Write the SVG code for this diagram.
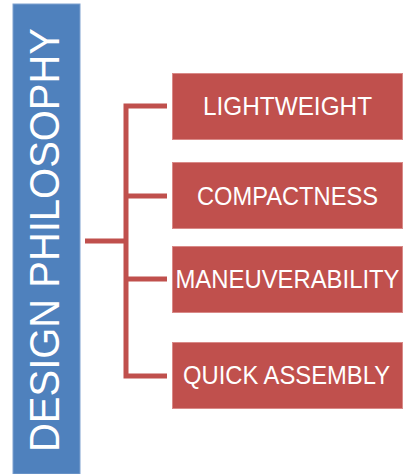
<svg xmlns="http://www.w3.org/2000/svg" width="406" height="474" viewBox="0 0 406 474">
  <style>
    .box { fill: #C0504D; stroke: #D98A88; stroke-width: 1; }
    .label { fill: #FFFFFF; font-family: "Liberation Sans", Arial, sans-serif; font-size: 25px; text-anchor: middle; }
    .title { fill: #FFFFFF; font-family: "Liberation Sans", Arial, sans-serif; font-size: 42px; text-anchor: middle; }
    .wire { fill: none; stroke: #C0504D; stroke-width: 5; stroke-linejoin: miter; }
  </style>
  <rect width="406" height="474" fill="#FFFFFF"/>

  <!-- root node: vertical banner -->
  <g id="design-philosophy">
    <rect x="13" y="4" width="67" height="470" fill="#4F81BD" stroke="#7FA1CF" stroke-width="1"/>
    <text class="title" transform="translate(59 240) rotate(-90)" x="0" y="0" textLength="424" lengthAdjust="spacingAndGlyphs">DESIGN PHILOSOPHY</text>
  </g>

  <!-- connectors -->
  <g id="connectors">
    <path class="wire" d="M85,241 H126"/>
    <path class="wire" d="M167,106 H126 V376 H167"/>
    <path class="wire" d="M126,196 H167"/>
    <path class="wire" d="M126,279 H167"/>
  </g>

  <g id="lightweight">
    <rect class="box" x="172.5" y="73.5" width="230" height="66"/>
    <text class="label" x="287.5" y="115" textLength="169" lengthAdjust="spacingAndGlyphs">LIGHTWEIGHT</text>
  </g>

  <g id="compactness">
    <rect class="box" x="172.5" y="162.5" width="230" height="66"/>
    <text class="label" x="287.5" y="205" textLength="181" lengthAdjust="spacingAndGlyphs">COMPACTNESS</text>
  </g>

  <g id="maneuverability">
    <rect class="box" x="172.5" y="246.5" width="230" height="66"/>
    <text class="label" x="287.5" y="288" font-size="24" textLength="224" lengthAdjust="spacingAndGlyphs">MANEUVERABILITY</text>
  </g>

  <g id="quick-assembly">
    <rect class="box" x="172.5" y="342.5" width="230" height="66"/>
    <text class="label" x="286.5" y="384" textLength="207" lengthAdjust="spacingAndGlyphs">QUICK ASSEMBLY</text>
  </g>
</svg>
